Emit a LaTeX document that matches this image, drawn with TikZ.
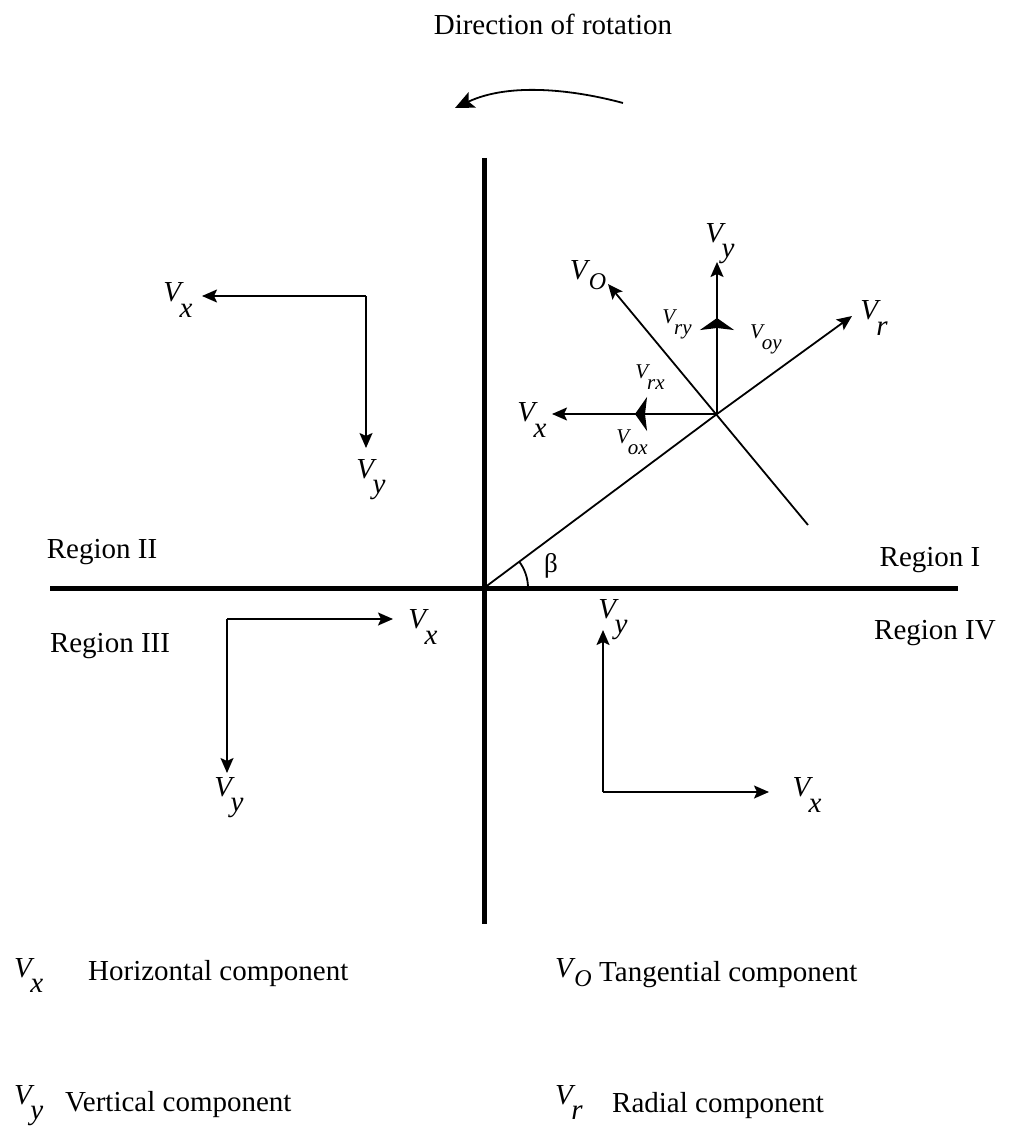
\documentclass[tikz,border=0pt]{standalone}
\usepackage{fontspec}
\setmainfont{Liberation Serif}
\usetikzlibrary{arrows.meta}
\newcommand{\Vs}[1]{\textit{V}\kern-0.15em\raisebox{-0.52em}{\textit{#1}}}
\newcommand{\Vo}{\textit{V}\kern-0.05em\raisebox{-0.32em}{\fontsize{24}{24}\selectfont\textit{O}}}
\begin{document}
\begin{tikzpicture}[x=1pt,y=-1pt,
  big/.style={font=\fontsize{29}{34}\selectfont, inner sep=0pt},
  small/.style={font=\fontsize{21}{24}\selectfont, inner sep=0pt},
  axisline/.style={line width=5pt},
  ln/.style={line width=1.8pt},
  vec/.style={ln,-{Stealth[length=15pt,width=13pt,inset=3pt]}},
  midtip/.style={ln,-{Stealth[length=12pt,width=34pt,inset=2pt]}}]
\useasboundingbox (0,0) rectangle (1009,1126);

% axes
\coordinate (O) at (484,588);
\coordinate (axT) at (484,158);
\coordinate (axB) at (484,924);
\coordinate (axL) at (50,588);
\coordinate (axR) at (958,588);
\draw[axisline] (axT) -- (axB);
\draw[axisline] (axL) -- (axR);

% rotation
\node[big] (title) at (553,24) {Direction of rotation};
\coordinate (r1) at (623,103);
\coordinate (r2) at (455,108);
\draw[ln,-{Stealth[length=19pt,width=17pt,inset=4pt]}] (r1) .. controls (575,90) and (510,82) .. (r2);

% Region I vector cluster
\coordinate (C) at (717,414);
\coordinate (Rt) at (852,316);
\coordinate (Tl) at (808,525);
\coordinate (Tt) at (608,284);
\coordinate (Yt) at (717,262);
\coordinate (Xt) at (552,414);
\coordinate (Ym) at (717,318);
\coordinate (Xm) at (635,414);
\draw[vec] (O) -- (C) -- (Rt);
\draw[vec] (Tl) -- (Tt);
\draw[vec] (C) -- (Yt);
\draw[vec] (C) -- (Xt);
\draw[midtip] (C) -- (Ym);
\draw[midtip] (C) -- (Xm);

\node[big] (lVy1) at (720,244) {\Vs{y}};
\node[big] (lVo1) at (588,275) {\Vo};
\node[big] (lVr1) at (874,318) {\Vs{r}};
\node[big] (lVx1) at (532,420) {\Vs{x}};
\node[small] (lVry) at (677,324) {\Vs{ry}};
\node[small] (lVoy) at (766,339) {\Vs{oy}};
\node[small] (lVrx) at (650,377) {\Vs{rx}};
\node[small] (lVox) at (632,442) {\Vs{ox}};

% angle
\coordinate (a0) at (528,588);
\draw[ln] (a0) arc[start angle=0,end angle=-37,radius=44];
\node[font=\fontsize{27}{30}\selectfont, inner sep=0pt] (beta) at (551,566) {β};

% Region II
\coordinate (q2) at (366,296);
\coordinate (q2x) at (202,296);
\coordinate (q2y) at (366,448);
\draw[vec] (q2) -- (q2x);
\draw[vec] (q2) -- (q2y);
\node[big] (lVx2) at (178,300) {\Vs{x}};
\node[big] (lVy2) at (371,480) {\Vs{y}};

% Region III
\coordinate (q3) at (227,619);
\coordinate (q3x) at (393,619);
\coordinate (q3y) at (227,773);
\draw[vec] (q3) -- (q3x);
\draw[vec] (q3) -- (q3y);
\node[big] (lVx3) at (423,627) {\Vs{x}};
\node[big] (lVy3) at (229,798) {\Vs{y}};

% Region IV
\coordinate (q4) at (603,792);
\coordinate (q4x) at (769,792);
\coordinate (q4y) at (603,630);
\draw[vec] (q4) -- (q4x);
\draw[vec] (q4) -- (q4y);
\node[big] (lVx4) at (807,795) {\Vs{x}};
\node[big] (lVy4) at (613,620) {\Vs{y}};

% region names
\node[big] (reg1) at (930,560) {Region I};
\node[big] (reg2) at (102,552) {Region II};
\node[big] (reg3) at (110,646) {Region III};
\node[big] (reg4) at (935,633) {Region IV};

% legend
\node[big,anchor=base west] (legVx) at (14,977) {\Vs{x}};
\node[big,anchor=base west] (legH) at (88,980) {Horizontal component};
\node[big,anchor=base west] (legVo) at (555,977) {\Vo};
\node[big,anchor=base west] (legT) at (599,981) {Tangential component};
\node[big,anchor=base west] (legVy) at (14,1104) {\Vs{y}};
\node[big,anchor=base west] (legV) at (65,1111) {Vertical component};
\node[big,anchor=base west] (legVr) at (555,1104) {\Vs{r}};
\node[big,anchor=base west] (legR) at (612,1112) {Radial component};
\end{tikzpicture}
\end{document}
